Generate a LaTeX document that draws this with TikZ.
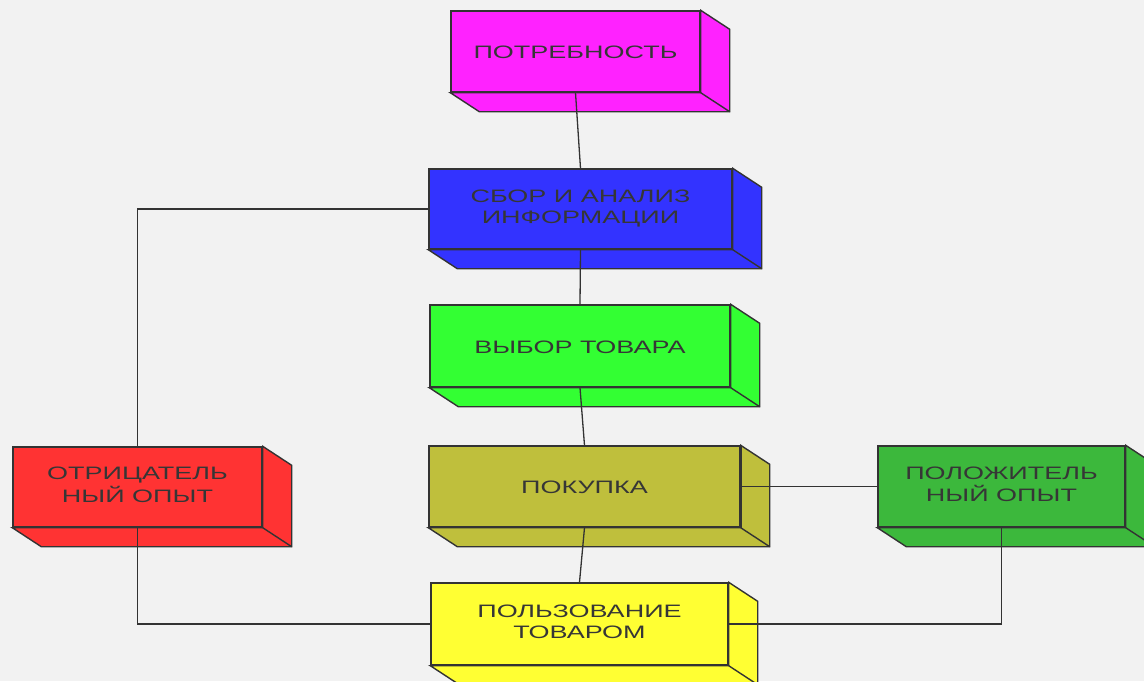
\documentclass[tikz,border=0pt]{standalone}
\usepackage{fontspec}
\setmainfont{Liberation Sans}
\usetikzlibrary{calc}
\definecolor{cMag}{HTML}{FF22FF}
\definecolor{cBlue}{HTML}{3333FF}
\definecolor{cLime}{HTML}{33FF33}
\definecolor{cOlive}{HTML}{BFBF3C}
\definecolor{cRed}{HTML}{FF3333}
\definecolor{cGreen}{HTML}{3CB83C}
\definecolor{cYel}{HTML}{FFFF33}
\definecolor{cLine}{HTML}{333333}
\definecolor{cText}{HTML}{363636}
\definecolor{cBg}{HTML}{F2F2F2}
\newcommand\wide[1]{\scalebox{1.5}[1]{\begin{tabular}{@{}c@{}}#1\end{tabular}}}
\newcommand\wideone[1]{\raisebox{-3pt}[\height][\depth]{\wide{#1}}}
\newcommand\extr[2]{%
  \filldraw[face,fill=#2] (#1.north east) -- ++(29,19) -- ($(#1.south east)+(29,19)$)
    -- ($(#1.south west)+(29,19)$) -- (#1.south west) -- (#1.south east) -- cycle;
  \draw[face] (#1.south east) -- ++(29,19);}
\tikzset{
  face/.style={draw=cLine, line width=1.4pt, line join=miter},
  cube/.style={draw=cLine, line width=1.4pt, rectangle, inner sep=0pt,
    text=cText, font=\fontsize{18}{21}\selectfont},
  conn/.style={draw=cLine, line width=1.3pt},
}
\begin{document}
\begin{tikzpicture}[x=1pt,y=-1pt]
\useasboundingbox (0,0) rectangle (1144,681);
\clip (0,0) rectangle (1144,681);
\fill[cBg] (0,0) rectangle (1144,681);
\node[cube, fill=cMag, minimum width=249pt, minimum height=81pt] (p) at (575.5,51.5) {\wideone{ПОТРЕБНОСТЬ}};
\node[cube, fill=cBlue, minimum width=303pt, minimum height=80pt] (s) at (580.5,209) {\wide{СБОР И АНАЛИЗ\\ИНФОРМАЦИИ}};
\node[cube, fill=cLime, minimum width=300pt, minimum height=82pt] (v) at (580,346) {\wideone{ВЫБОР ТОВАРА}};
\node[cube, fill=cOlive, minimum width=311pt, minimum height=81pt] (k) at (584.5,486.5) {\wideone{ПОКУПКА}};
\node[cube, fill=cRed, minimum width=249pt, minimum height=80pt] (r) at (137.5,487) {\wide{ОТРИЦАТЕЛЬ\\НЫЙ ОПЫТ}};
\node[cube, fill=cGreen, minimum width=247pt, minimum height=81pt] (g) at (1001.5,486.5) {\wide{ПОЛОЖИТЕЛЬ\\НЫЙ ОПЫТ}};
\node[cube, fill=cYel, minimum width=297pt, minimum height=82pt] (u) at (579.5,624) {\wide{ПОЛЬЗОВАНИЕ\\ТОВАРОМ}};
\extr{p}{cMag}
\extr{s}{cBlue}
\extr{v}{cLime}
\extr{k}{cOlive}
\extr{r}{cRed}
\extr{g}{cGreen}
\extr{u}{cYel}
\draw[cLine, line width=2.6pt] (k.north east) -- (k.south east);
\draw[conn] (p.south) -- (s.north);
\draw[conn] (s.south) -- (v.north);
\draw[conn] (v.south) -- (k.north);
\draw[conn] (k.south) -- (u.north);
\draw[conn] (s.west) -| (r.north);
\draw[conn] (r.south) |- (u.west);
\draw[conn] (k.east) -- (g.west);
\draw[conn] (g.south) |- (u.east);
\end{tikzpicture}
\end{document}
